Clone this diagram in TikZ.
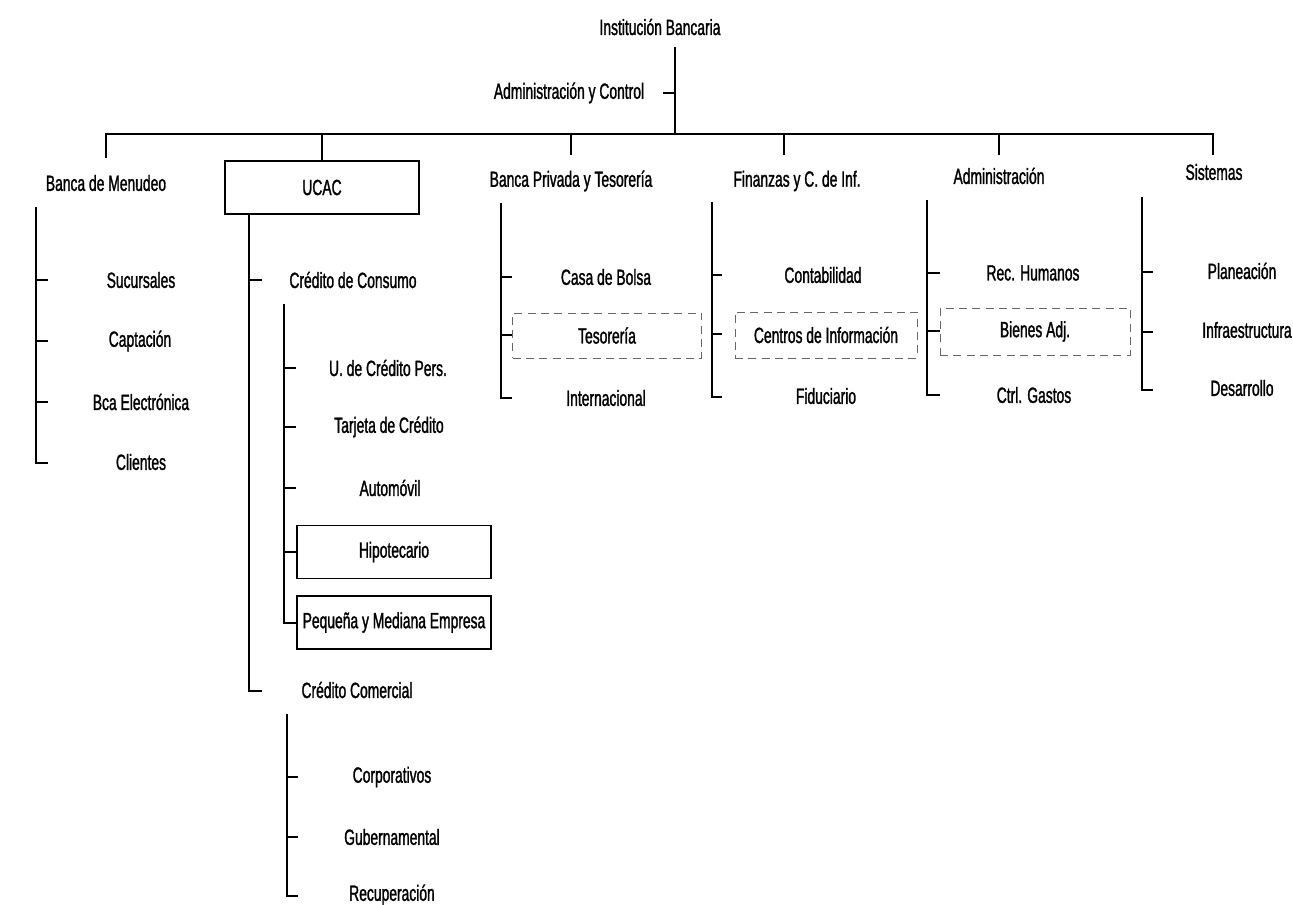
\documentclass[tikz,border=0pt]{standalone}
\usepackage{fontspec}
\setmainfont{Liberation Sans}[FakeStretch=0.63, FakeBold=1.3]
\begin{document}
\begin{tikzpicture}[x=0.75pt,y=-0.75pt,
  every node/.style={font=\fontsize{16.5}{19}\selectfont, inner sep=0pt},
  unit/.style={draw, line width=1pt, minimum width=145.5pt, minimum height=39.5pt},
  ghost/.style={draw=black!60, dash pattern=on 6pt off 4pt, line width=0.7pt},
  link/.style={line width=1.5pt}]
\useasboundingbox (0,0) rectangle (1293,905);

% ---- top levels ----
\node (root) at (660,27) {Institución Bancaria};
\node (acon) at (569,93) {Administración y Control};
\coordinate (rootTop) at (675,47);
\coordinate (rootJ) at (675,134);
\coordinate (aconEnd) at (663,93);
\draw[link] (rootTop) -- (rootJ);
\draw[link] (aconEnd) -- (rootTop |- aconEnd);

% ---- second level labels ----
\node (bm) at (106,183) {Banca de Menudeo};
\node[unit, minimum height=39.75pt] (ucac) at (322,187.5) {UCAC};
\node (bp) at (571,181) {Banca Privada y Tesorería};
\node (fi) at (797,181) {Finanzas y C. de Inf.};
\node (ad) at (999,176) {Administración};
\node (si) at (1214,172) {Sistemas};

\coordinate (bmDrop) at (106,158);
\coordinate (bpDrop) at (571,155);
\coordinate (fiDrop) at (784,155);
\coordinate (adDrop) at (999,155);
\coordinate (siDrop) at (1213,155);
\draw[link] (bmDrop) |- (siDrop |- rootJ) -- (siDrop);
\draw[link] (ucac.north) -- (ucac.north |- rootJ);
\draw[link] (bpDrop) -- (bpDrop |- rootJ);
\draw[link] (fiDrop) -- (fiDrop |- rootJ);
\draw[link] (adDrop) -- (adDrop |- rootJ);

% ---- Banca de Menudeo ----
\node (suc) at (141,280) {Sucursales};
\node (cap) at (140,341) {Captación};
\node (bca) at (141,402) {Bca Electrónica};
\node (cli) at (141,462) {Clientes};
\coordinate (bmTop) at (36,207);
\coordinate (sucS) at (48,280);
\coordinate (capS) at (48,341);
\coordinate (bcaS) at (48,402);
\coordinate (cliS) at (48,463);
\draw[link] (bmTop) |- (cliS);
\draw[link] (bmTop |- sucS) -- (sucS);
\draw[link] (bmTop |- capS) -- (capS);
\draw[link] (bmTop |- bcaS) -- (bcaS);

% ---- UCAC ----
\node (ccons) at (353,280) {Crédito de Consumo};
\node (ccom) at (357,690) {Crédito Comercial};
\coordinate (ucTop) at (249,214);
\coordinate (cconsS) at (262,280);
\coordinate (ccomS) at (262,691);
\draw[link] (ucTop) |- (ccomS);
\draw[link] (ucTop |- cconsS) -- (cconsS);

% Crédito de Consumo
\node (ucp) at (388,368) {U. de Crédito Pers.};
\node (tdc) at (389,427) {Tarjeta de Crédito};
\node (aut) at (390,488) {Automóvil};
\node[unit] (hip) at (394,552) {Hipotecario};
\node[unit, minimum height=39.75pt] (pym) at (394,622.5) {Pequeña y Mediana Empresa};
\coordinate (ccTop) at (284,304);
\coordinate (ucpS) at (296,368);
\coordinate (tdcS) at (296,427);
\coordinate (autS) at (296,488);
\draw[link] (ccTop) |- (pym.west);
\draw[link] (ccTop |- ucpS) -- (ucpS);
\draw[link] (ccTop |- tdcS) -- (tdcS);
\draw[link] (ccTop |- autS) -- (autS);
\draw[link] (ccTop |- hip.west) -- (hip.west);

% Crédito Comercial
\node (cor) at (392,777) {Corporativos};
\node (gub) at (392,837) {Gubernamental};
\node (rec) at (392,895) {Recuperación};
\coordinate (cmTop) at (287,714);
\coordinate (corS) at (298,777);
\coordinate (gubS) at (298,837);
\coordinate (recS) at (298,896);
\draw[link] (cmTop) |- (recS);
\draw[link] (cmTop |- corS) -- (corS);
\draw[link] (cmTop |- gubS) -- (gubS);

% ---- Banca Privada y Tesorería ----
\node (cdb) at (606,277) {Casa de Bolsa};
\node[ghost, minimum width=141.75pt, minimum height=33.75pt] (tes) at (607,335.5) {Tesorería};
\node (int) at (606,398) {Internacional};
\coordinate (bpTop) at (501,203);
\coordinate (cdbS) at (512,277);
\coordinate (intS) at (512,398);
\draw[link] (bpTop) |- (intS);
\draw[link] (bpTop |- cdbS) -- (cdbS);
\draw[link] (bpTop |- tes.west) -- (tes.west);

% ---- Finanzas y C. de Inf. ----
\node (con) at (823,275) {Contabilidad};
\node[ghost, minimum width=136.5pt, minimum height=34.5pt] (cdi) at (826,335) {Centros de Información};
\node (fid) at (826,396) {Fiduciario};
\coordinate (fiTop) at (712,202);
\coordinate (conS) at (722,275);
\coordinate (cdiS) at (722,334);
\coordinate (fidS) at (722,397);
\draw[link] (fiTop) |- (fidS);
\draw[link] (fiTop |- conS) -- (conS);
\draw[link] (fiTop |- cdiS) -- (cdiS);

% ---- Administración ----
\node (rh) at (1033,273) {Rec. Humanos};
\node[ghost, minimum width=142.5pt, minimum height=35.25pt] (bie) at (1035,331.5) {Bienes Adj.};
\node (ctg) at (1034,395) {Ctrl. Gastos};
\coordinate (adTop) at (927,200);
\coordinate (rhS) at (940,273);
\coordinate (ctgS) at (940,395);
\draw[link] (adTop) |- (ctgS);
\draw[link] (adTop |- rhS) -- (rhS);
\draw[link] (adTop |- bie.west) -- (bie.west);

% ---- Sistemas ----
\node (pla) at (1242,271) {Planeación};
\node (inf) at (1247,330) {Infraestructura};
\node (des) at (1242,388) {Desarrollo};
\coordinate (siTop) at (1142,197);
\coordinate (plaS) at (1153,272);
\coordinate (infS) at (1153,332);
\coordinate (desS) at (1153,390);
\draw[link] (siTop) |- (desS);
\draw[link] (siTop |- plaS) -- (plaS);
\draw[link] (siTop |- infS) -- (infS);
\end{tikzpicture}
\end{document}
